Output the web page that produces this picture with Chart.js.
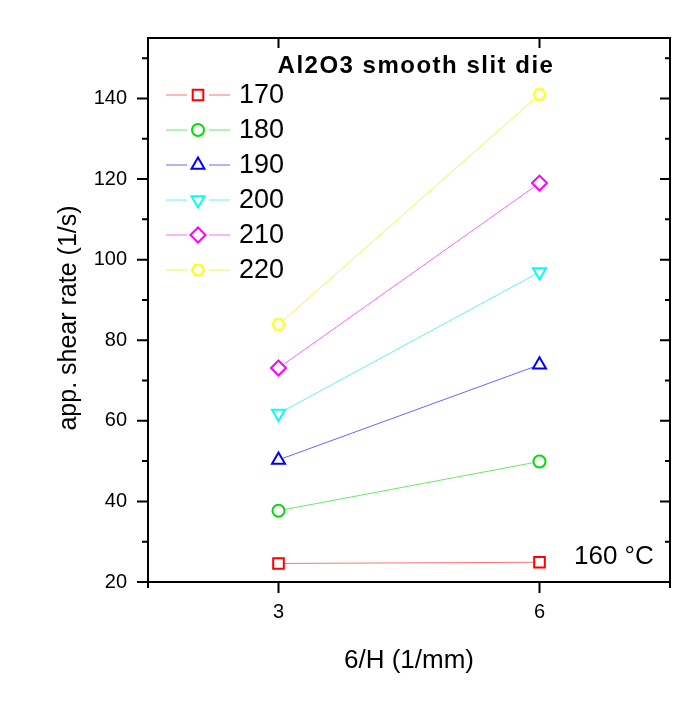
<!DOCTYPE html>
<html>
<head>
<meta charset="utf-8">
<script src="https://cdn.jsdelivr.net/npm/chart.js@4/dist/chart.umd.min.js"></script>
<style>
  html, body { margin:0; padding:0; background:#fff; }
  #wrap { width:696px; height:706px; }
</style>
</head>
<body>
<div id="wrap"><canvas id="c" width="696" height="706"></canvas></div>
<script>
// ─── data ───────────────────────────────────────────────
const xValues   = [3, 6];
const temps     = ['170', '180', '190', '200', '210', '220'];
const rate170   = [24.6, 24.9];
const rate180   = [37.7, 49.9];
const rate190   = [50.3, 73.9];
const rate200   = [61.8, 96.9];
const rate210   = [73.1, 119.0];
const rate220   = [83.9, 141.0];
const xTicks    = [3, 6];
const yTicks    = [20, 40, 60, 80, 100, 120, 140];
const yMinor    = [30, 50, 70, 90, 110, 130, 150];

const FONT = '"Liberation Sans", Arial, sans-serif';

// hexagon marker (no built-in one)
function hexagon(color, r) {
  const s = 2 * r + 4, cv = document.createElement('canvas');
  cv.width = s; cv.height = s;
  const g = cv.getContext('2d');
  g.strokeStyle = color; g.lineWidth = 2; g.fillStyle = '#fff';
  g.beginPath();
  for (let i = 0; i < 6; i++) {
    const a = Math.PI / 3 * i;
    const px = s / 2 + r * Math.cos(a), py = s / 2 + r * Math.sin(a);
    i ? g.lineTo(px, py) : g.moveTo(px, py);
  }
  g.closePath(); g.fill(); g.stroke();
  return cv;
}

const series = [rate170, rate180, rate190, rate200, rate210, rate220];
const colors = ['#ff0000', '#00e000', '#0000ff', '#00ffff', '#ff00ff', '#ffff00'];
const lines  = ['rgba(255,0,0,0.55)', 'rgba(0,220,0,0.6)', 'rgba(0,0,255,0.6)',
                'rgba(0,230,230,0.6)', 'rgba(255,0,255,0.6)', 'rgba(240,240,0,0.7)'];
const styles = ['rect', 'circle', 'triangle', 'triangle', 'rectRot', hexagon('#ffff00', 6)];
const rots   = [0, 0, 0, 180, 0, 0];
const radii  = [7.5, 6, 7.5, 7.5, 7.5, 7];

const datasets = series.map((vals, i) => ({
  label: temps[i],
  data: vals.map((v, j) => ({ x: xValues[j], y: v })),
  showLine: true,
  borderColor: lines[i],
  borderWidth: 1,
  pointStyle: styles[i],
  rotation: rots[i],
  pointRadius: radii[i],
  pointBorderColor: colors[i],
  pointBackgroundColor: '#fff',
  pointBorderWidth: 2
}));

// frame + ticks on all four sides, titles, legend
const framePlugin = {
  id: 'frame',
  afterDraw(chart) {
    const { ctx, chartArea: a, scales: { x, y } } = chart;
    ctx.save();
    ctx.strokeStyle = '#000'; ctx.lineWidth = 2;
    ctx.strokeRect(a.left, a.top, a.right - a.left, a.bottom - a.top);
    ctx.beginPath();
    yTicks.forEach(v => {
      const py = y.getPixelForValue(v);
      ctx.moveTo(a.left - 11, py); ctx.lineTo(a.left, py);
      ctx.moveTo(a.right, py); ctx.lineTo(a.right - 10, py);
    });
    yMinor.forEach(v => {
      const py = y.getPixelForValue(v);
      ctx.moveTo(a.left - 6, py); ctx.lineTo(a.left, py);
      ctx.moveTo(a.right, py); ctx.lineTo(a.right - 5, py);
    });
    xTicks.forEach(v => {
      const px = x.getPixelForValue(v);
      ctx.moveTo(px, a.bottom); ctx.lineTo(px, a.bottom + 11);
      ctx.moveTo(px, a.top); ctx.lineTo(px, a.top + 10);
    });
    [x.min, x.max].forEach(v => {
      const px = x.getPixelForValue(v);
      ctx.moveTo(px, a.bottom); ctx.lineTo(px, a.bottom + 6);
    });
    ctx.stroke();

    // title + annotation
    ctx.fillStyle = '#000';
    ctx.textBaseline = 'middle';
    ctx.textAlign = 'center';
    ctx.font = 'bold 24px ' + FONT;
    ctx.letterSpacing = '1.5px';
    ctx.fillText('Al2O3 smooth slit die', 416, 66);
    ctx.letterSpacing = '0px';

    // y axis title
    ctx.save();
    ctx.translate(69, 318);
    ctx.rotate(-Math.PI / 2);
    ctx.font = '25px ' + FONT;
    ctx.fillText('app. shear rate (1/s)', 0, 0);
    ctx.restore();

    ctx.textAlign = 'left';
    ctx.font = '26px ' + FONT;
    ctx.fillText('160 °C', 574, 557);

    // legend: line - marker - line, then label
    chart.data.datasets.forEach((ds, i) => {
      const ly = 95 + i * 35;
      ctx.strokeStyle = ds.borderColor; ctx.lineWidth = 1;
      ctx.beginPath();
      ctx.moveTo(166, ly); ctx.lineTo(187, ly);
      ctx.moveTo(209, ly); ctx.lineTo(230, ly);
      ctx.stroke();
      ctx.strokeStyle = ds.pointBorderColor; ctx.fillStyle = '#fff'; ctx.lineWidth = 2;
      Chart.helpers.drawPoint(ctx, {
        pointStyle: ds.pointStyle, radius: ds.pointRadius,
        rotation: ds.rotation, borderWidth: 2
      }, 198, ly);
      ctx.fillStyle = '#000';
      ctx.font = '27px ' + FONT;
      ctx.fillText(ds.label, 239, ly + 1);
    });
    ctx.restore();
  }
};

new Chart(document.getElementById('c'), {
  type: 'scatter',
  data: { datasets },
  plugins: [framePlugin],
  options: {
    responsive: false,
    animation: false,
    layout: { padding: { left: 0, top: 38, right: 26, bottom: 0 } },
    plugins: { legend: { display: false }, tooltip: { enabled: false } },
    scales: {
      x: {
        min: 1.5, max: 7.5,
        afterBuildTicks: s => { s.ticks = xTicks.map(v => ({ value: v })); },
        afterFit: s => { s.height = 124; },
        grid: { display: false, drawTicks: false },
        border: { display: false },
        ticks: { padding: 18, color: '#000', font: { family: FONT, size: 20 } },
        title: { display: true, text: '6/H (1/mm)', color: '#000',
                 font: { family: FONT, size: 26 }, padding: { top: 0, bottom: 30 } }
      },
      y: {
        min: 20, max: 155,
        afterBuildTicks: s => { s.ticks = yTicks.map(v => ({ value: v })); },
        afterFit: s => { s.width = 148; },
        grid: { display: false, drawTicks: false },
        border: { display: false },
        ticks: { padding: 21, color: '#000', font: { family: FONT, size: 20 } },
        title: { display: false }
      }
    }
  }
});
</script>
</body>
</html>
